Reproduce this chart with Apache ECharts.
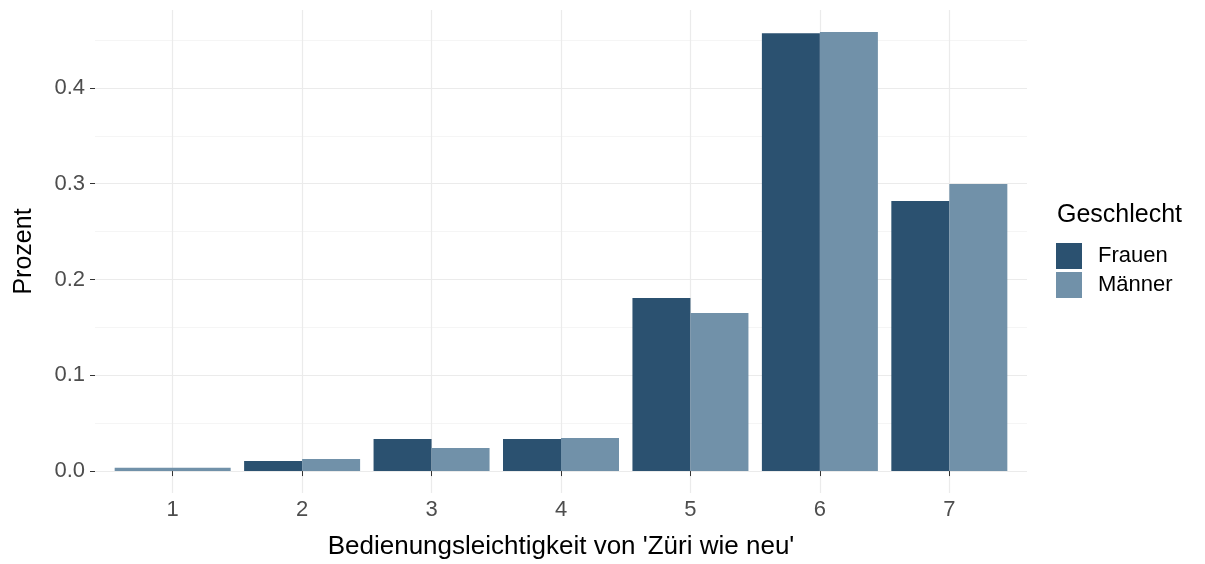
<!DOCTYPE html>
<html>
<head>
<meta charset="utf-8">
<script src="https://cdn.jsdelivr.net/npm/echarts@6/dist/echarts.min.js"></script>
<style>
  html, body { margin: 0; padding: 0; background: #fff; }
  #chart { width: 1205px; height: 564px; }
</style>
</head>
<body>
<div id="chart"></div>
<script>
const categories = ['1', '2', '3', '4', '5', '6', '7']
// '-' = no answers in that group
const frauen = ['-', 0.0104, 0.0334, 0.0334, 0.1807, 0.4572, 0.2820]
const maenner = ['-', 0.0125, 0.0240, 0.0345, 0.1650, 0.4584, 0.2998]
// category 1 only has one group, so ggplot draws it full width
const single = [0.0035, '-', '-', '-', '-', '-', '-']
const yTicks = [0, 0.1, 0.2, 0.3, 0.4]
const yMinor = [0.05, 0.15, 0.25, 0.35, 0.45]

const font = 'Liberation Sans, Arial, sans-serif'
const dark = '#2b5170'
const light = '#7191a9'
const xPos = categories.map((c, i) => i + 1)
const pts = arr => arr.map((v, i) => [xPos[i], v])

const chart = echarts.init(document.getElementById('chart'))
const xBase = {
  type: 'value', min: 0.4, max: 7.6,
  axisLine: { show: false }
}
chart.setOption({
  animation: false,
  textStyle: { fontFamily: font },
  grid: { left: 95, right: 178, top: 10, bottom: 71, outerBoundsMode: 'none', containLabel: false },
  title: {
    text: 'Geschlecht', left: 1052, top: 198,
    textStyle: { fontFamily: font, fontSize: 25, fontWeight: 'normal', color: '#000' }
  },
  legend: {
    data: ['Frauen', 'Männer'], orient: 'vertical', left: 1056, top: 243,
    padding: 0, itemWidth: 26, itemHeight: 26, itemGap: 3, icon: 'rect',
    textStyle: { fontFamily: font, fontSize: 22, color: '#000', padding: [0, 0, 0, 11] }
  },
  xAxis: [
    Object.assign({}, xBase, {
      name: "Bedienungsleichtigkeit von 'Züri wie neu'",
      nameLocation: 'middle', nameGap: 41,
      nameTextStyle: { fontFamily: font, fontSize: 26, color: '#000', verticalAlign: 'top' },
      axisTick: { show: true, length: 5, customValues: xPos, lineStyle: { color: '#333' } },
      axisLabel: {
        customValues: xPos, margin: 6, fontSize: 22, color: '#4d4d4d',
        formatter: v => categories[Math.round(v) - 1]
      },
      splitLine: { show: true, lineStyle: { color: '#ebebeb', width: 1.2 } }
    }),
    Object.assign({}, xBase, {
      show: false, splitLine: { show: false }
    })
  ],
  yAxis: [
    {
      type: 'value', min: -0.0229, max: 0.4814,
      name: 'Prozent', nameLocation: 'middle', nameGap: 58,
      nameTextStyle: { fontFamily: font, fontSize: 25, color: '#000' },
      axisLine: { show: false },
      axisTick: { show: true, length: 5, customValues: yTicks, lineStyle: { color: '#333' } },
      axisLabel: {
        customValues: yTicks, margin: 10, fontSize: 22, color: '#4d4d4d',
        formatter: v => v.toFixed(1)
      },
      splitLine: { show: true, lineStyle: { color: '#ebebeb', width: 1.2 } }
    },
    {
      type: 'value', min: -0.0229, max: 0.4814,
      axisLine: { show: false },
      axisTick: { show: false, customValues: yMinor },
      axisLabel: { show: false },
      splitLine: { show: true, lineStyle: { color: '#f2f2f2', width: 0.8 } }
    }
  ],
  series: [
    {
      name: 'Frauen', type: 'bar', data: pts(frauen),
      barWidth: 58, barGap: '0%', itemStyle: { color: dark }
    },
    {
      name: 'Männer', type: 'bar', data: pts(maenner),
      barWidth: 58, barGap: '0%', itemStyle: { color: light }
    },
    {
      name: 'Männer ', type: 'bar', xAxisIndex: 1, data: pts(single),
      barWidth: 116, itemStyle: { color: light }
    }
  ]
})
</script>
</body>
</html>
